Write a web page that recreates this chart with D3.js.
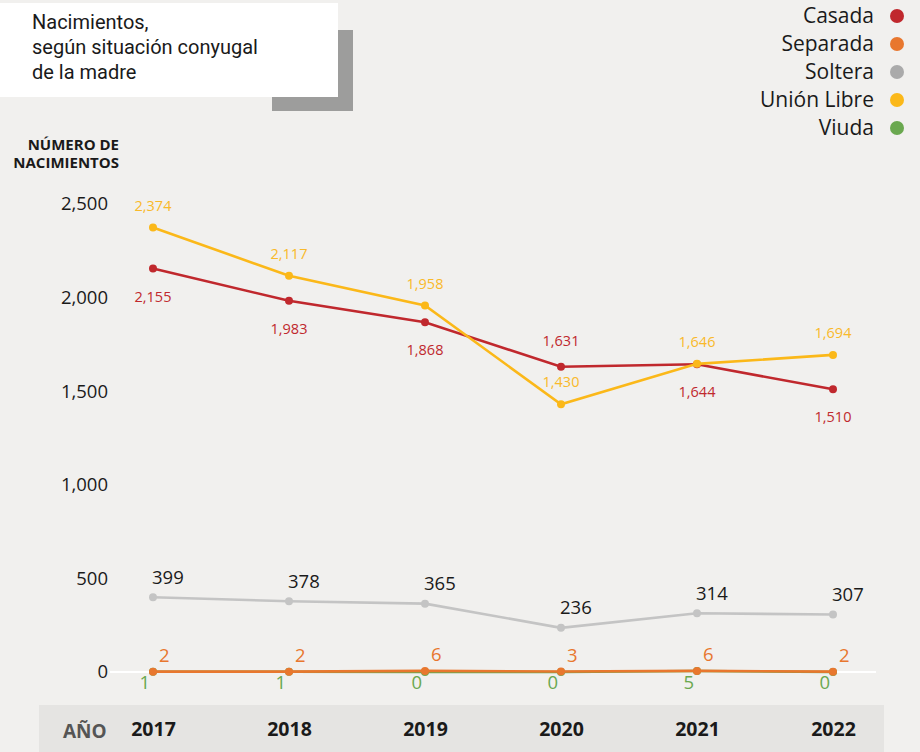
<!DOCTYPE html>
<html>
<head>
<meta charset="utf-8">
<script src="https://cdn.jsdelivr.net/npm/d3@7"></script>
<style>
  html, body { margin: 0; padding: 0; background: #f1f0ee; }
  svg { display: block; }
  .axis .domain { display: none; }
</style>
</head>
<body>
<svg width="920" height="752"></svg>
<script>
(() => {

    const years = [2017, 2018, 2019, 2020, 2021, 2022];
    const casada = [2155, 1983, 1868, 1631, 1644, 1510];
    const separada = [2, 2, 6, 3, 6, 2];
    const soltera = [399, 378, 365, 236, 314, 307];
    const unionLibre = [2374, 2117, 1958, 1430, 1646, 1694];
    const viuda = [1, 1, 0, 0, 5, 0];
    const yTicks = [0, 500, 1000, 1500, 2000, 2500];
    const legendNames = ['Casada', 'Separada', 'Soltera', 'Unión Libre', 'Viuda'];
    const legendColors = ['#c0282d', '#e8772e', '#aaaaaa', '#fbb819', '#6aa84f'];

    const svg = d3.select('svg');
    const fmt = d3.format(',');

    const x = d3.scalePoint()
            .domain(years)
            .range([153, 833]);

    const y = d3.scaleLinear()
            .domain([0, 2500])
            .range([672, 204]);

    // title card
    svg.append('rect')
            .attr('x', 272).attr('y', 30)
            .attr('width', 81).attr('height', 81)
            .attr('fill', '#9d9d9c');
    svg.append('rect')
            .attr('x', 0).attr('y', 3)
            .attr('width', 338).attr('height', 94)
            .attr('fill', '#ffffff');
    svg.append('text')
            .attr('font-family', 'Roboto')
            .attr('font-size', 20)
            .attr('fill', '#1a1a1a')
            .selectAll('tspan')
            .data(['Nacimientos,', 'según situación conyugal', 'de la madre'])
            .enter().append('tspan')
            .attr('x', 32)
            .attr('y', (d, i) => 29 + i * 25)
            .text(d => d);

    // legend
    const legend = svg.append('g')
            .selectAll('g')
            .data(legendNames)
            .enter().append('g')
            .attr('transform', (d, i) => `translate(0,${16 + i * 28})`);
    legend.append('text')
            .attr('x', 874)
            .attr('dy', '0.35em')
            .attr('text-anchor', 'end')
            .attr('font-family', 'Open Sans')
            .attr('font-size', 21)
            .attr('fill', '#1a1a1a')
            .text(d => d);
    legend.append('circle')
            .attr('cx', 897)
            .attr('cy', 0)
            .attr('r', 7)
            .attr('fill', (d, i) => legendColors[i]);

    // y axis title
    svg.append('text')
            .attr('font-family', 'Open Sans')
            .attr('font-size', 15)
            .attr('font-weight', 'bold')
            .attr('fill', '#1a1a1a')
            .attr('text-anchor', 'end')
            .selectAll('tspan')
            .data(['NÚMERO DE', 'NACIMIENTOS'])
            .enter().append('tspan')
            .attr('x', 119)
            .attr('y', (d, i) => 150 + i * 18)
            .text(d => d);

    // bottom band
    svg.append('rect')
            .attr('x', 39).attr('y', 705)
            .attr('width', 845).attr('height', 47)
            .attr('fill', '#e5e4e2');
    svg.append('text')
            .attr('x', 63).attr('y', 738)
            .attr('font-family', 'Open Sans')
            .attr('font-size', 19)
            .attr('font-weight', 'bold')
            .attr('fill', '#555')
            .text('AÑO');

    const xAxis = svg.append('g')
            .attr('class', 'axis')
            .attr('transform', 'translate(0,720)')
            .call(d3.axisBottom(x).tickSize(0).tickPadding(0));
    xAxis.selectAll('text')
            .attr('dy', '0.8em')
            .attr('font-family', 'Open Sans')
            .attr('font-size', 19.5)
            .attr('font-weight', 'bold')
            .attr('fill', '#1a1a1a');

    const yAxis = svg.append('g')
            .attr('class', 'axis')
            .attr('transform', 'translate(108,0)')
            .call(d3.axisLeft(y).tickValues(yTicks).tickFormat(fmt).tickSize(0).tickPadding(0));
    yAxis.selectAll('text')
            .attr('font-family', 'Open Sans')
            .attr('font-size', 18.5)
            .attr('fill', '#1a1a1a');

    // baseline
    svg.append('line')
            .attr('x1', 110).attr('x2', 876)
            .attr('y1', y(0)).attr('y2', y(0))
            .attr('stroke', '#ffffff')
            .attr('stroke-width', 2);

    const line = d3.line()
            .x((d, i) => x(years[i]))
            .y(d => y(d));

    const drawSeries = (values, color) => {
        const g = svg.append('g');
        g.append('path')
                .datum(values)
                .attr('fill', 'none')
                .attr('stroke', color)
                .attr('stroke-width', 2.6)
                .attr('d', line);
        g.selectAll('circle')
                .data(values)
                .enter().append('circle')
                .attr('cx', (d, i) => x(years[i]))
                .attr('cy', d => y(d))
                .attr('r', 4)
                .attr('fill', color);
        return g;
    };

    const addLabels = (values, color, size, anchor, dx, dy) => {
        svg.append('g')
                .selectAll('text')
                .data(values)
                .enter().append('text')
                .attr('x', (d, i) => x(years[i]) + dx)
                .attr('y', (d, i) => y(d) + (typeof dy === 'function' ? dy(d, i) : dy))
                .attr('dy', '0.35em')
                .attr('text-anchor', anchor)
                .attr('font-family', 'Open Sans')
                .attr('font-size', size)
                .attr('fill', color)
                .text(d => fmt(d));
    };

    drawSeries(soltera, '#c4c4c4');
    drawSeries(viuda, '#6aa84f');
    drawSeries(separada, '#e8772e');
    drawSeries(casada, '#c0282d');
    drawSeries(unionLibre, '#fbb819');

    addLabels(soltera, '#1a1a1a', 18.5, 'start', -1, -20);
    addLabels(separada, '#e8772e', 18.5, 'start', 6, -16);
    addLabels(viuda, '#6aa84f', 18.5, 'end', -3, 11);
    addLabels(unionLibre, '#f9b92a', 14.5, 'middle', 0, -22);
    addLabels(casada, '#c0282d', 14.5, 'middle', 0,
            (d, i) => d > unionLibre[i] ? -26 : 28);

})();
</script>
</body>
</html>
